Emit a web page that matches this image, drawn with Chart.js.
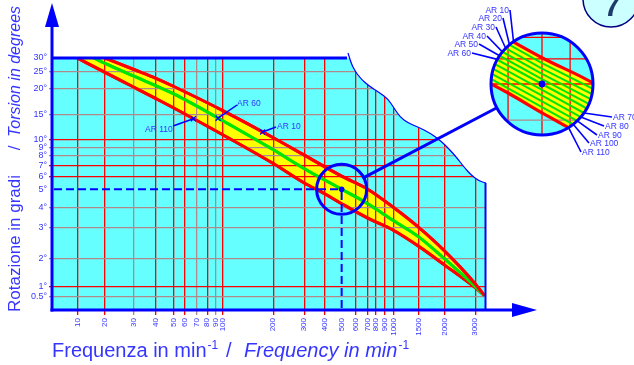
<!DOCTYPE html>
<html><head><meta charset="utf-8">
<script src="https://cdn.jsdelivr.net/npm/chart.js@4.4.1/dist/chart.umd.min.js"></script>
<style>html,body{margin:0;padding:0;background:#fff;}canvas{display:block;}</style>
</head><body>
<canvas id="c" width="634" height="365"></canvas>
<script>
// ---------------- data ----------------
const freqTicks = [10,20,30,40,50,60,70,80,90,100,200,300,400,500,600,700,800,900,1000,1500,2000,3000];
const degTicks  = [0.5,1,2,3,4,5,6,7,8,9,10,15,20,25,30];

const ar10Freq  = [20,30,40,50,100,200,300,500,700,1000,1500,2000,3000,3300];
const ar10Deg   = [30,25.8,23.1,20.8,15.9,10.46,8.07,6.05,5.01,4.0,3.0,2.25,1.1,0.55];
const ar60Freq  = [16,20,30,50,100,200,300,500,700,1000,1500,2000,3000,3300];
const ar60Deg   = [30,28,23.7,19.1,13.9,8.7,6.75,5.0,4.2,3.35,2.7,2.0,1.0,0.55];
const ar110Freq = [10,20,30,40,50,100,200,300,400,500,700,1000,1500,2000,3000,3300];
const ar110Deg  = [30,24.8,20.5,18.15,16.4,11.1,7.24,5.5,4.75,4.2,3.47,2.92,2.4,1.78,0.95,0.55];

// intermediate curves, visible only inside the magnifier
const detailFreq = [300,500,700];
const ar20Deg  = [7.80,5.83,4.85];
const ar30Deg  = [7.52,5.61,4.69];
const ar40Deg  = [7.25,5.40,4.53];
const ar50Deg  = [6.98,5.19,4.37];
const ar70Deg  = [6.46,4.84,4.04];
const ar80Deg  = [6.20,4.68,3.89];
const ar90Deg  = [5.94,4.52,3.75];
const ar100Deg = [5.72,4.36,3.61];

const arNames = ['AR 10','AR 20','AR 30','AR 40','AR 50','AR 60','AR 70','AR 80','AR 90','AR 100','AR 110'];
const focusFreq = 500, focusDeg = 5;

// ---------------- printed (non-uniform) axis geometry, per-mille of axis length ----------------
const WARP = {
  x: [[0,0],[10,58.3],[20,122.1],[30,188.9],[40,239.6],[50,279.5],[60,306.5],[70,334.1],[80,357.8],[90,376.3],[100,392.4],
      [200,509.9],[300,581.3],[400,628.3],[500,667.4],[600,699.8],[700,727.4],[800,746.5],[900,765.7],[1000,786.4],
      [1500,845.6],[2000,904.8],[3000,975.3],[3350,1000]],
  y: [[0,0],[0.5,52.8],[1,92.5],[2,202.4],[3,326.6],[4,407.5],[5,479.0],[6,529.0],[7,571.4],[8,612.3],[9,645.6],
      [10,674.6],[15,773.8],[20,877.0],[25,945.6],[30,1000]]
};
const TICKVALS = { x: freqTicks, y: degTicks };

class WarpScale extends Chart.LinearScale {
  buildTicks() { return TICKVALS[this.id].map(v => ({ value: v })); }
  _toUnit(v) {
    const w = WARP[this.id]; let i = 1;
    while (i < w.length - 1 && v > w[i][0]) i++;
    const [v0, u0] = w[i-1], [v1, u1] = w[i];
    return (u0 + (v - v0) / (v1 - v0) * (u1 - u0)) / 1000;
  }
  _fromUnit(u) {
    const w = WARP[this.id]; u *= 1000; let i = 1;
    while (i < w.length - 1 && u > w[i][1]) i++;
    const [v0, u0] = w[i-1], [v1, u1] = w[i];
    return v0 + (u - u0) / (u1 - u0) * (v1 - v0);
  }
  getPixelForValue(v) { return this.getPixelForDecimal(this._toUnit(v)); }
  getValueForPixel(p) { return this._fromUnit(this.getDecimalForPixel(p)); }
}
WarpScale.id = 'warp';
WarpScale.defaults = {};
Chart.register(WarpScale);

// ---------------- styles ----------------
const FONT = '"Liberation Sans", Arial, Helvetica, sans-serif';
const C = { blue:'#0000ff', text:'#3535ff', cyan:'#66ffff', red:'#ff0000', grey:'#b08a8a', green:'#00e600', yellow:'#ffff00' };
const redX = new Set([10,20,40,50,60,80,100,200,300,400,600,700,800,900,1000,1500,2000,3000]);
const redY = new Set([1,6,7,10]);
const NONE = 'rgba(0,0,0,0)';
function xGrid(v) { if (v === 500) return NONE; return redX.has(v) ? C.red : C.grey; }
function yGrid(v) { if (v === 5 || v === 30) return NONE; return redY.has(v) ? C.red : C.grey; }

const WAVE = [[348,53],[351,63],[355,71],[361,79],[369,86],[380,93],[388,99],[394,108],[400,117],[408,123],[418,127],
              [430,133],[441,141],[450,150],[457,158],[464,167],[471,175],[479,181],[486,183]];
const MC = { x: 542, y: 84 }, MR = 51, MZ = 2, SR = 25;
const leftLab  = [[509,13],[502,21],[495,30],[486,39],[478,47],[471,56]];
const rightLab = [[613,120],[605,129],[598,138],[590,146],[582,155]];
const notes = [
  { ds: 2, name: 'AR 110', freq: 67,  tx: 145, ty: 132, lx: 173, ly: 126 },
  { ds: 1, name: 'AR 60',  freq: 94,  tx: 237, ty: 106, lx: 237, ly: 105 },
  { ds: 0, name: 'AR 10',  freq: 179, tx: 277, ty: 128.5, lx: 276, ly: 127 }
];

const pts = (fs, ds) => fs.map((f, i) => ({ x: f, y: ds[i] }));

function smoothPath(ctx, p) {
  ctx.moveTo(p[0][0], p[0][1]);
  for (let i = 1; i < p.length - 1; i++) {
    ctx.quadraticCurveTo(p[i][0], p[i][1], (p[i][0] + p[i+1][0]) / 2, (p[i][1] + p[i+1][1]) / 2);
  }
  ctx.lineTo(p[p.length-1][0], p[p.length-1][1]);
}
function seg(ctx, x1, y1, x2, y2) { ctx.beginPath(); ctx.moveTo(x1, y1); ctx.lineTo(x2, y2); ctx.stroke(); }
function circleHits(p, c, r) {
  const hits = [];
  for (let i = 0; i < p.length - 1; i++) {
    const a = p[i], b = p[i+1];
    const dx = b.x - a.x, dy = b.y - a.y, fx = a.x - c.x, fy = a.y - c.y;
    const A = dx*dx + dy*dy, B = 2*(fx*dx + fy*dy), K = fx*fx + fy*fy - r*r;
    const D = B*B - 4*A*K; if (D < 0) continue;
    const s = Math.sqrt(D);
    [(-B - s) / (2*A), (-B + s) / (2*A)].forEach(t => { if (t >= 0 && t <= 1) hits.push({ x: a.x + t*dx, y: a.y + t*dy }); });
  }
  return hits;
}
function yOnMeta(meta, x) {
  const d = meta.data;
  for (let i = 0; i < d.length - 1; i++) {
    if (x >= d[i].x && x <= d[i+1].x) return d[i].y + (x - d[i].x) / (d[i+1].x - d[i].x) * (d[i+1].y - d[i].y);
  }
  return d[d.length-1].y;
}

const bgPlugin = {
  id: 'bg',
  beforeDraw(chart) {
    const { ctx, chartArea: a } = chart;
    ctx.save(); ctx.fillStyle = C.cyan; ctx.fillRect(a.left, a.top, a.right - a.left, a.bottom - a.top); ctx.restore();
  }
};

const decoPlugin = {
  id: 'deco',
  afterDraw(chart) {
    const { ctx, chartArea: a } = chart;
    const xs = chart.scales.x, ys = chart.scales.y;
    const P = (f, d) => ({ x: xs.getPixelForValue(f), y: ys.getPixelForValue(d) });
    const metas = [0,1,2].map(i => chart.getDatasetMeta(i));

    // curves above the grid
    ctx.save(); ctx.beginPath(); ctx.rect(a.left, a.top, a.right - a.left, a.bottom - a.top); ctx.clip();
    [2,1,0].forEach(i => metas[i].dataset.draw(ctx, a));
    ctx.restore();

    // cut-away corner
    ctx.save();
    ctx.beginPath(); smoothPath(ctx, WAVE);
    ctx.lineTo(a.right + 3, 183); ctx.lineTo(a.right + 3, a.top - 3); ctx.lineTo(WAVE[0][0], a.top - 3); ctx.closePath();
    ctx.fillStyle = '#fff'; ctx.fill();
    ctx.beginPath(); smoothPath(ctx, WAVE); ctx.strokeStyle = C.blue; ctx.lineWidth = 1.2; ctx.stroke();

    // frame and axes
    ctx.strokeStyle = C.blue; ctx.fillStyle = C.blue;
    ctx.lineWidth = 3; seg(ctx, a.left, a.top, 347, a.top);
    ctx.lineWidth = 2; seg(ctx, a.right - 0.5, 183, a.right - 0.5, a.bottom);
    ctx.lineWidth = 3; seg(ctx, a.left, a.bottom + 1.5, a.left, 26);
    ctx.beginPath(); ctx.moveTo(a.left, 3); ctx.lineTo(a.left - 7, 27); ctx.lineTo(a.left + 7, 27); ctx.closePath(); ctx.fill();
    seg(ctx, a.left - 1.5, a.bottom, 513, a.bottom);
    ctx.beginPath(); ctx.moveTo(537, a.bottom); ctx.lineTo(512, a.bottom - 7); ctx.lineTo(512, a.bottom + 7); ctx.closePath(); ctx.fill();

    // reading example
    const F = P(focusFreq, focusDeg);
    ctx.lineWidth = 2; ctx.setLineDash([8, 4]);
    seg(ctx, a.left + 2, F.y, F.x, F.y);
    seg(ctx, F.x, a.bottom - 2, F.x, F.y);
    ctx.setLineDash([]);
    ctx.beginPath(); ctx.arc(F.x, F.y, 2.8, 0, Math.PI * 2); ctx.fill();
    ctx.lineWidth = 3; ctx.beginPath(); ctx.arc(F.x, F.y, SR, 0, Math.PI * 2); ctx.stroke();
    const dx = MC.x - F.x, dy = MC.y - F.y, dl = Math.hypot(dx, dy), ux = dx / dl, uy = dy / dl;
    seg(ctx, F.x + SR * ux, F.y + SR * uy, MC.x - MR * ux, MC.y - MR * uy);

    // magnifier
    const M = p => ({ x: MC.x + MZ * (p.x - F.x), y: MC.y + MZ * (p.y - F.y) });
    const detail = [ar20Deg, ar30Deg, ar40Deg, ar50Deg, ar70Deg, ar80Deg, ar90Deg, ar100Deg];
    const detPix = d => detailFreq.map((f, i) => P(f, d[i]));
    const L10 = metas[0].dataset, L60 = metas[1].dataset, L110 = metas[2].dataset;
    ctx.save();
    ctx.beginPath(); ctx.arc(MC.x, MC.y, MR, 0, Math.PI * 2); ctx.fillStyle = C.cyan; ctx.fill(); ctx.clip();
    ctx.translate(MC.x, MC.y); ctx.scale(MZ, MZ); ctx.translate(-F.x, -F.y);
    ctx.beginPath(); L10.path(ctx); L110.pathSegment(ctx, L110.segments[0], { move: false, reverse: true }); ctx.closePath();
    ctx.fillStyle = C.yellow; ctx.fill();
    ctx.lineWidth = 0.65;
    freqTicks.forEach(v => { const x = xs.getPixelForValue(v); ctx.strokeStyle = v === focusFreq ? C.red : xGrid(v); seg(ctx, x, a.top, x, a.bottom); });
    degTicks.forEach(v => { const y = ys.getPixelForValue(v); ctx.strokeStyle = v === focusDeg ? C.red : yGrid(v); seg(ctx, a.left, y, a.right, y); });
    ctx.strokeStyle = C.green; ctx.lineWidth = 1.0;
    detail.forEach(d => { const q = detPix(d); ctx.beginPath(); q.forEach((p, i) => i ? ctx.lineTo(p.x, p.y) : ctx.moveTo(p.x, p.y)); ctx.stroke(); });
    ctx.lineWidth = 1.1; ctx.beginPath(); L60.path(ctx); ctx.stroke();
    ctx.strokeStyle = C.red; ctx.lineWidth = 1.6;
    ctx.beginPath(); L10.path(ctx); ctx.stroke();
    ctx.beginPath(); L110.path(ctx); ctx.stroke();
    ctx.fillStyle = C.blue; ctx.beginPath(); ctx.arc(F.x, F.y, 1.7, 0, Math.PI * 2); ctx.fill();
    ctx.restore();

    // magnifier labels
    const magLines = [
      metas[0].data.map(e => ({ x: e.x, y: e.y })),
      detPix(ar20Deg), detPix(ar30Deg), detPix(ar40Deg), detPix(ar50Deg),
      metas[1].data.map(e => ({ x: e.x, y: e.y })),
      detPix(ar70Deg), detPix(ar80Deg), detPix(ar90Deg), detPix(ar100Deg),
      metas[2].data.map(e => ({ x: e.x, y: e.y }))
    ].map(l => l.map(M));
    ctx.strokeStyle = C.blue; ctx.fillStyle = C.text; ctx.lineWidth = 1.6;
    ctx.font = '8.5px ' + FONT; ctx.textBaseline = 'alphabetic';
    magLines.forEach((l, k) => {
      const h = circleHits(l, MC, MR); if (!h.length) return;
      if (k < 6) {
        const [lx, ly] = leftLab[k]; const t = h[0];
        seg(ctx, lx + 1, ly - 3, t.x, t.y);
        ctx.textAlign = 'right'; ctx.fillText(arNames[k], lx, ly);
      } else {
        const [lx, ly] = rightLab[k - 6]; const t = h[h.length - 1];
        seg(ctx, lx - 1, ly - 3, t.x, t.y);
        ctx.textAlign = 'left'; ctx.fillText(arNames[k], lx, ly);
      }
    });
    ctx.lineWidth = 3; ctx.strokeStyle = C.blue;
    ctx.beginPath(); ctx.arc(MC.x, MC.y, MR, 0, Math.PI * 2); ctx.stroke();

    // notes on the main band
    ctx.lineWidth = 1.5; ctx.textAlign = 'left';
    notes.forEach(n => {
      const mx = xs.getPixelForValue(n.freq), my = yOnMeta(metas[n.ds], mx);
      seg(ctx, n.lx, n.ly, mx, my);
      ctx.lineWidth = 1.2;
      seg(ctx, mx - 2.5, my - 2.5, mx + 2.5, my + 2.5); seg(ctx, mx - 2.5, my + 2.5, mx + 2.5, my - 2.5);
      ctx.lineWidth = 1.5;
      ctx.fillText(n.name, n.tx, n.ty);
    });

    // axis titles
    ctx.fillStyle = C.text;
    ctx.save(); ctx.translate(20, 312); ctx.rotate(-Math.PI / 2);
    ctx.textAlign = 'left';
    ctx.font = '17px ' + FONT; ctx.fillText('Rotazione in gradi', 0, 0);
    const ws = ctx.measureText('/').width; ctx.fillText('/', 164 - ws / 2, 0);
    ctx.font = 'italic 16px ' + FONT; ctx.fillText('Torsion in degrees', 175, 0);
    ctx.restore();

    ctx.textAlign = 'left';
    ctx.font = '20px ' + FONT; ctx.fillText('Frequenza in min', 52, 357);
    let w = ctx.measureText('Frequenza in min').width;
    ctx.font = '12px ' + FONT; ctx.fillText('-1', 52 + w + 1, 349);
    ctx.font = '20px ' + FONT; ctx.fillText('/', 226, 357);
    ctx.font = 'italic 20px ' + FONT; ctx.fillText('Frequency in min', 244, 357);
    w = ctx.measureText('Frequency in min').width;
    ctx.font = '12px ' + FONT; ctx.fillText('-1', 244 + w + 1, 349);

    // page badge
    ctx.beginPath(); ctx.arc(611, -1, 28, 0, Math.PI * 2);
    ctx.fillStyle = '#ccffff'; ctx.fill(); ctx.lineWidth = 1.5; ctx.strokeStyle = '#000080'; ctx.stroke();
    ctx.fillStyle = '#1d3b6b'; ctx.font = 'bold 30px ' + FONT; ctx.textAlign = 'center'; ctx.fillText('7', 612, 16);
    ctx.restore();
  }
};

new Chart(document.getElementById('c'), {
  type: 'line',
  data: {
    datasets: [
      { label: 'AR 10', data: pts(ar10Freq, ar10Deg), borderColor: C.red, borderWidth: 3, pointRadius: 0,
        fill: { value: 30 }, backgroundColor: C.cyan, cubicInterpolationMode: 'monotone' },
      { label: 'AR 60', data: pts(ar60Freq, ar60Deg), borderColor: C.green, borderWidth: 3, pointRadius: 0,
        fill: false, cubicInterpolationMode: 'monotone' },
      { label: 'AR 110', data: pts(ar110Freq, ar110Deg), borderColor: C.red, borderWidth: 3, pointRadius: 0,
        fill: { value: 30 }, backgroundColor: C.yellow, cubicInterpolationMode: 'monotone' }
    ]
  },
  options: {
    responsive: false, animation: false, events: [], devicePixelRatio: 1,
    layout: { padding: { left: 0, right: 148, top: 58, bottom: 0 } },
    plugins: { legend: { display: false }, tooltip: { enabled: false } },
    scales: {
      x: {
        type: 'warp', position: 'bottom', min: 0, max: 3350,
        grid: { z: 1, color: c => xGrid(c.tick ? c.tick.value : 0), lineWidth: 1.3, tickLength: 5 },
        border: { display: false },
        ticks: { autoSkip: false, minRotation: 90, maxRotation: 90, padding: 3, color: C.text,
                 font: { size: 8, family: FONT }, callback: v => String(v) },
        afterFit: s => { s.height = 55; }
      },
      y: {
        type: 'warp', position: 'left', min: 0, max: 30,
        grid: { z: 1, color: c => yGrid(c.tick ? c.tick.value : 0), lineWidth: 1.3, tickLength: 3 },
        border: { display: false },
        ticks: { autoSkip: false, padding: 2, color: C.text, font: { size: 9, family: FONT },
                 callback: v => v + '°' },
        afterFit: s => { s.height; s.width = 52; }
      }
    }
  },
  plugins: [bgPlugin, decoPlugin]
});
</script>
</body></html>
